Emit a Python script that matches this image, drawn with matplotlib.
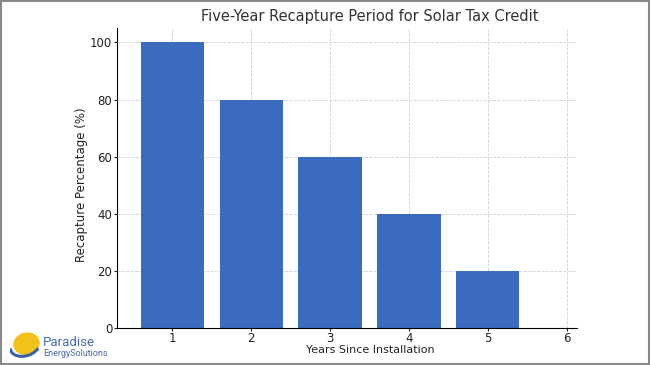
import matplotlib.pyplot as plt
from matplotlib.patches import Ellipse, Arc, Rectangle

years = [1, 2, 3, 4, 5]
recapture = [100, 80, 60, 40, 20]
xticks = [1, 2, 3, 4, 5, 6]
yticks = [0, 20, 40, 60, 80, 100]

fig = plt.figure(figsize=(6.5, 3.65), dpi=100)
ax = fig.add_axes([0.18, 0.1014, 0.7077, 0.8216])

ax.bar(years, recapture, width=0.8, color='#3a6bbf', zorder=2)
ax.set_xlim(0.3, 6.13)
ax.set_ylim(0, 105)
ax.set_xticks(xticks)
ax.set_yticks(yticks)
ax.grid(True, linestyle='--', color='#d0d0d0', linewidth=0.6, zorder=0)
ax.spines['top'].set_visible(False)
ax.spines['right'].set_visible(False)
ax.tick_params(labelsize=8.5, colors='#222222', length=2.5, pad=1)
ax.tick_params(axis='x', pad=0.5)
ax.set_xlabel('Years Since Installation', fontsize=8, color='#222222')
ax.xaxis.set_label_coords(0.55, -0.058)
ax.set_ylabel('Recapture Percentage (%)', fontsize=8.5, color='#222222')
ax.yaxis.set_label_coords(-0.062, 0.477)
fig.text(370 / 650, 1 - 17 / 365, 'Five-Year Recapture Period for Solar Tax Credit',
         fontsize=10.5, color='#333333', ha='center', va='center')

# border
fig.patches.append(Rectangle((0.002, 0.003), 0.996, 0.994, transform=fig.transFigure,
                             fill=False, edgecolor='#888888', linewidth=1.5))

# logo
la = fig.add_axes([10 / 650, 5 / 365, 30 / 650, 28 / 365])
la.set_xlim(0, 1)
la.set_ylim(0, 1)
la.axis('off')
la.add_patch(Ellipse((0.55, 0.58), 0.85, 0.75, angle=20, color='#f2c21b'))
la.add_patch(Arc((0.5, 0.5), 1.0, 0.7, angle=20, theta1=170, theta2=330,
                 color='#3a62a8', linewidth=2.2))
fig.text(43 / 650, 1 - 342 / 365, 'Paradise', fontsize=9.5, color='#4a6aa8',
         family='Roboto', ha='left', va='center')
fig.text(43 / 650, 1 - 354 / 365, 'EnergySolutions', fontsize=6.5, color='#4a6aa8',
         family='Roboto', ha='left', va='center')

fig.savefig('out.png', dpi=100)
